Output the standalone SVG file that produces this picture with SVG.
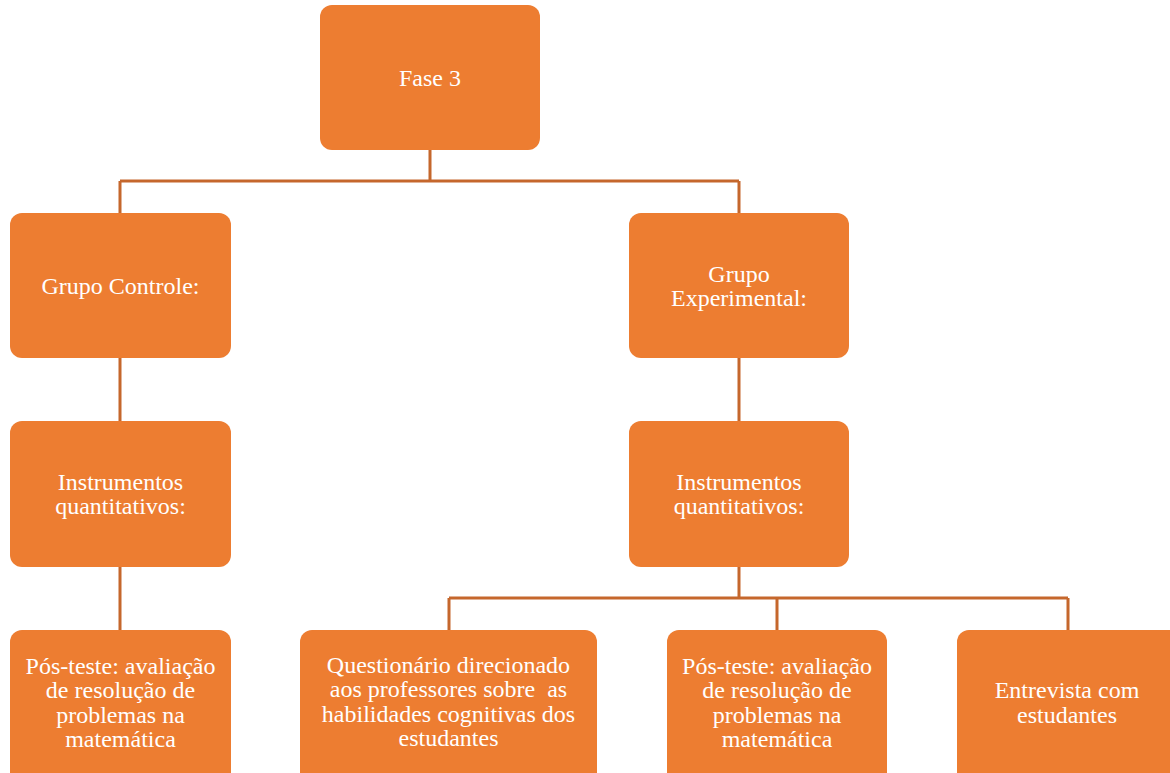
<svg xmlns="http://www.w3.org/2000/svg" width="1170" height="773" viewBox="0 0 1170 773">
<style>
.box{fill:#ED7D31;}
.t{font-family:"Liberation Serif","Times New Roman",serif;font-size:24px;fill:#ffffff;text-anchor:middle;}
.c{stroke:#C5672C;stroke-width:3;fill:none;}
</style>
<rect width="1170" height="773" fill="#ffffff"/>
<g id="connectors">
<path class="c" d="M430,150V181M120,181H739M120,181V213M739,181V213"/>
<path class="c" d="M120,358V421M120,567V630"/>
<path class="c" d="M739,358V421M739,567V598M449,598H1068M449,598V630M777,598V630M1068,598V630"/>
</g>
<g id="fase3"><rect class="box" x="320" y="5" width="220" height="145" rx="12"/><text class="t" x="430" y="86">Fase 3</text></g>
<g id="grupo-controle"><rect class="box" x="10" y="213" width="221" height="145" rx="12"/><text class="t" x="120.5" y="294">Grupo Controle:</text></g>
<g id="grupo-experimental"><rect class="box" x="629" y="213" width="220" height="145" rx="12"/><text class="t" x="739" y="282">Grupo</text><text class="t" x="739" y="306">Experimental:</text></g>
<g id="instr-left"><rect class="box" x="10" y="421" width="221" height="146" rx="12"/><text class="t" x="120.5" y="490">Instrumentos</text><text class="t" x="120.5" y="514">quantitativos:</text></g>
<g id="instr-right"><rect class="box" x="629" y="421" width="220" height="146" rx="12"/><text class="t" x="739" y="490">Instrumentos</text><text class="t" x="739" y="514">quantitativos:</text></g>
<g id="pos-left"><rect class="box" x="10" y="630" width="221" height="160" rx="12"/><text class="t" x="120.5" y="674">Pós-teste: avaliação</text><text class="t" x="120.5" y="698">de resolução de</text><text class="t" x="120.5" y="723">problemas na</text><text class="t" x="120.5" y="747">matemática</text></g>
<g id="questionario"><rect class="box" x="300" y="630" width="297" height="160" rx="12"/><text class="t" x="448.5" y="673">Questionário direcionado</text><text class="t" x="448.5" y="697" xml:space="preserve">aos professores sobre  as</text><text class="t" x="448.5" y="722">habilidades cognitivas dos</text><text class="t" x="448.5" y="746">estudantes</text></g>
<g id="pos-right"><rect class="box" x="667" y="630" width="220" height="160" rx="12"/><text class="t" x="777" y="674">Pós-teste: avaliação</text><text class="t" x="777" y="698">de resolução de</text><text class="t" x="777" y="723">problemas na</text><text class="t" x="777" y="747">matemática</text></g>
<g id="entrevista"><rect class="box" x="957" y="630" width="230" height="160" rx="12"/><text class="t" x="1067" y="698">Entrevista com</text><text class="t" x="1067" y="723">estudantes</text></g>
</svg>
